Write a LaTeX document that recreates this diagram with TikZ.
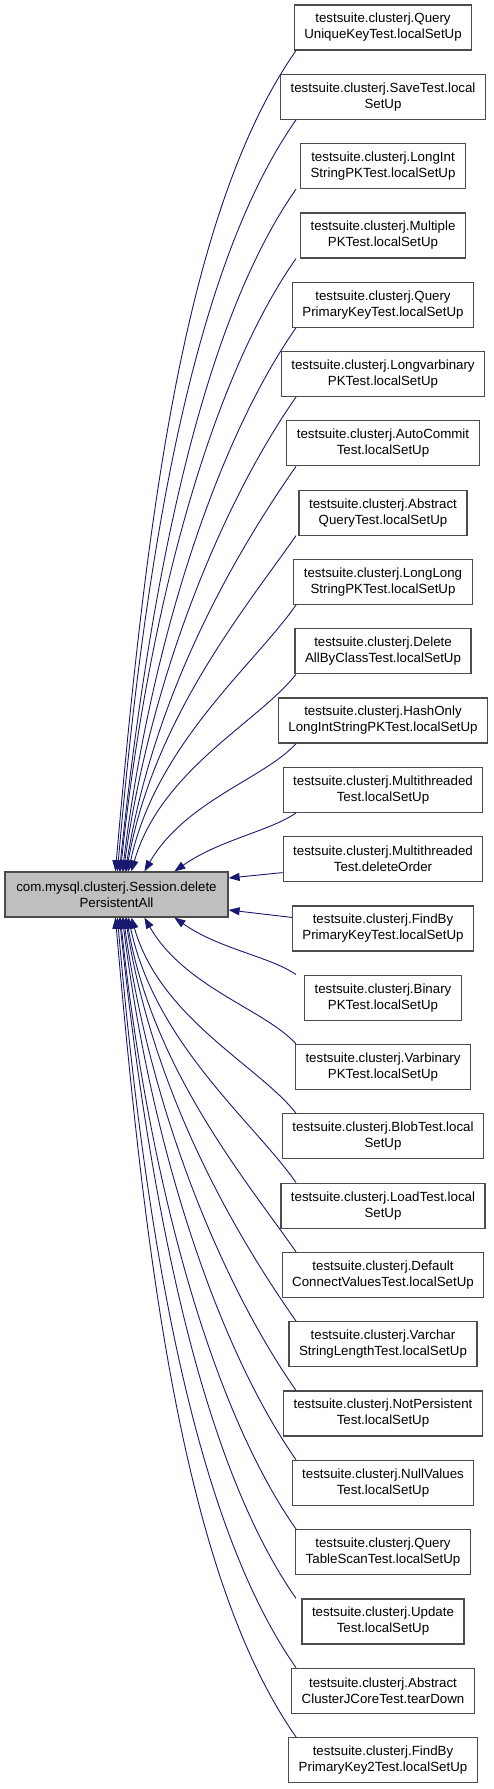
\documentclass[tikz,border=0pt]{standalone}
\usepackage{fontspec}
\setmainfont{Liberation Sans}
\usetikzlibrary{arrows.meta}
\usepackage{xcolor}
\definecolor{callblue}{RGB}{25,25,112}
\definecolor{mainbg}{RGB}{191,191,191}

\begin{document}
\begin{tikzpicture}[
        x=1pt, y=1pt,
        fnbox/.style={draw=black!70, line width=1.2pt, fill=white, align=center,
                      inner xsep=10pt, inner ysep=0pt, minimum height=45pt,
                      font=\fontsize{13.3}{16}\selectfont},
        mainbox/.style={fnbox, fill=mainbg, minimum width=223pt},
        call/.style={draw=callblue, line width=0.9pt,
                     -{Triangle[length=11pt,width=8pt]},
                     out looseness=0.6, in looseness=1.05},
    ]

    \useasboundingbox (0,0) rectangle (493,-1789);

    % ---------- called function ------------------------------------------
    \node[mainbox] (main) at (116.5,-894.5) {com.mysql.clusterj.Session.delete\\PersistentAll};

    % edges leave the callers on this vertical
    \coordinate (gate) at (296,0);

    % ---------- callers ----------------------------------------------------
    \node[fnbox] (quk)   at (383,  -27.5) {testsuite.clusterj.Query\\UniqueKeyTest.localSetUp};
    \node[fnbox] (save)  at (383,  -96.8) {testsuite.clusterj.SaveTest.local\\SetUp};
    \node[fnbox] (lisp)  at (383, -166.1) {testsuite.clusterj.LongInt\\StringPKTest.localSetUp};
    \node[fnbox] (mpk)   at (383, -235.4) {testsuite.clusterj.Multiple\\PKTest.localSetUp};
    \node[fnbox] (qpk)   at (383, -304.7) {testsuite.clusterj.Query\\PrimaryKeyTest.localSetUp};
    \node[fnbox] (lvb)   at (383, -374.0) {testsuite.clusterj.Longvarbinary\\PKTest.localSetUp};
    \node[fnbox] (ac)    at (383, -443.3) {testsuite.clusterj.AutoCommit\\Test.localSetUp};
    \node[fnbox] (aq)    at (383, -512.6) {testsuite.clusterj.Abstract\\QueryTest.localSetUp};
    \node[fnbox] (llsp)  at (383, -581.9) {testsuite.clusterj.LongLong\\StringPKTest.localSetUp};
    \node[fnbox] (dabc)  at (383, -651.2) {testsuite.clusterj.Delete\\AllByClassTest.localSetUp};
    \node[fnbox] (ho)    at (383, -720.5) {testsuite.clusterj.HashOnly\\LongIntStringPKTest.localSetUp};
    \node[fnbox] (mt)    at (383, -789.8) {testsuite.clusterj.Multithreaded\\Test.localSetUp};
    \node[fnbox] (mtdo)  at (383, -859.1) {testsuite.clusterj.Multithreaded\\Test.deleteOrder};
    \node[fnbox] (fbpk)  at (383, -928.4) {testsuite.clusterj.FindBy\\PrimaryKeyTest.localSetUp};
    \node[fnbox] (bpk)   at (383, -997.7) {testsuite.clusterj.Binary\\PKTest.localSetUp};
    \node[fnbox] (vbpk)  at (383,-1067.0) {testsuite.clusterj.Varbinary\\PKTest.localSetUp};
    \node[fnbox] (blob)  at (383,-1136.3) {testsuite.clusterj.BlobTest.local\\SetUp};
    \node[fnbox] (load)  at (383,-1205.6) {testsuite.clusterj.LoadTest.local\\SetUp};
    \node[fnbox] (dcv)   at (383,-1274.9) {testsuite.clusterj.Default\\ConnectValuesTest.localSetUp};
    \node[fnbox] (vsl)   at (383,-1344.2) {testsuite.clusterj.Varchar\\StringLengthTest.localSetUp};
    \node[fnbox] (np)    at (383,-1413.5) {testsuite.clusterj.NotPersistent\\Test.localSetUp};
    \node[fnbox] (nv)    at (383,-1482.8) {testsuite.clusterj.NullValues\\Test.localSetUp};
    \node[fnbox] (qts)   at (383,-1552.1) {testsuite.clusterj.Query\\TableScanTest.localSetUp};
    \node[fnbox] (upd)   at (383,-1621.4) {testsuite.clusterj.Update\\Test.localSetUp};
    \node[fnbox] (acj)   at (383,-1690.7) {testsuite.clusterj.Abstract\\ClusterJCoreTest.tearDown};
    \node[fnbox] (fbpk2) at (383,-1760.0) {testsuite.clusterj.FindBy\\PrimaryKey2Test.localSetUp};

    % ---------- calls from above --------------------------------------------
    \draw[call] (quk.south -| gate)  to[out=235,in=85] ([xshift=111pt]main.north west);
    \draw[call] (save.south -| gate) to[out=235,in=85] ([xshift=113pt]main.north west);
    \draw[call] (lisp.south -| gate) to[out=235,in=84] ([xshift=115pt]main.north west);
    \draw[call] (mpk.south -| gate)  to[out=235,in=84] ([xshift=116pt]main.north west);
    \draw[call] (qpk.south -| gate)  to[out=235,in=83] ([xshift=118pt]main.north west);
    \draw[call] (lvb.south -| gate)  to[out=235,in=82] ([xshift=119pt]main.north west);
    \draw[call] (ac.south -| gate)   to[out=235,in=81] ([xshift=121pt]main.north west);
    \draw[call] (aq.south -| gate)   to[out=235,in=80] ([xshift=122pt]main.north west);
    \draw[call] (llsp.south -| gate) to[out=235,in=78] ([xshift=124pt]main.north west);
    \draw[call] (dabc.south -| gate) to[out=232,in=74] ([xshift=127pt]main.north west);
    \draw[call] (ho.south -| gate)   to[out=228,in=60] ([xshift=140pt]main.north west);
    \draw[call] (mt.south -| gate)   to[out=215,in=35] ([xshift=170pt]main.north west);

    % ---------- calls from the side -----------------------------------------
    \draw[call] ([yshift=-13.5pt]mtdo.west) -- ([yshift=16.5pt]main.east);
    \draw[call] ([yshift=11pt]fbpk.west)    -- ([yshift=-15.5pt]main.east);

    % ---------- calls from below --------------------------------------------
    \draw[call] (bpk.north -| gate)   to[out=145,in=-35] ([xshift=170pt]main.south west);
    \draw[call] (vbpk.north -| gate)  to[out=132,in=-60] ([xshift=140pt]main.south west);
    \draw[call] (blob.north -| gate)  to[out=128,in=-74] ([xshift=127pt]main.south west);
    \draw[call] (load.north -| gate)  to[out=125,in=-78] ([xshift=124pt]main.south west);
    \draw[call] (dcv.north -| gate)   to[out=125,in=-80] ([xshift=122pt]main.south west);
    \draw[call] (vsl.north -| gate)   to[out=125,in=-81] ([xshift=121pt]main.south west);
    \draw[call] (np.north -| gate)    to[out=125,in=-82] ([xshift=119pt]main.south west);
    \draw[call] (nv.north -| gate)    to[out=125,in=-83] ([xshift=118pt]main.south west);
    \draw[call] (qts.north -| gate)   to[out=125,in=-84] ([xshift=116pt]main.south west);
    \draw[call] (upd.north -| gate)   to[out=125,in=-84] ([xshift=115pt]main.south west);
    \draw[call] (acj.north -| gate)   to[out=125,in=-85] ([xshift=113pt]main.south west);
    \draw[call] (fbpk2.north -| gate) to[out=125,in=-85] ([xshift=111pt]main.south west);

\end{tikzpicture}
\end{document}
